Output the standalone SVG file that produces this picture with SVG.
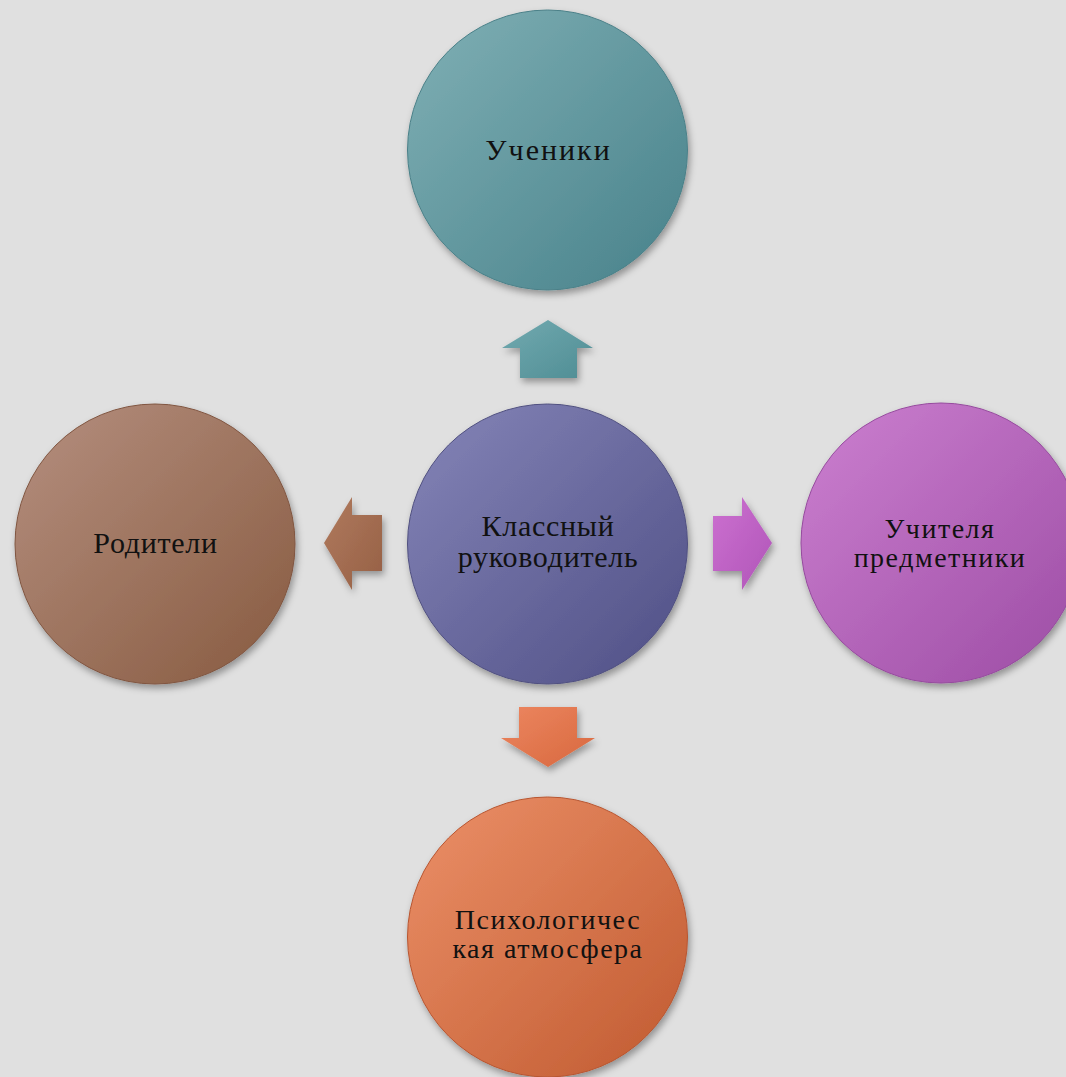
<svg xmlns="http://www.w3.org/2000/svg" width="1066" height="1077" viewBox="0 0 1066 1077">
<defs>
<style>
.lbl{font-family:"Liberation Serif","Times New Roman",serif;font-size:30px;fill:#111;text-anchor:middle;letter-spacing:0.7px}
.sm{font-size:28px;letter-spacing:1.5px}
.circ{stroke-width:1;filter:url(#sh)}
.arr{filter:url(#sh)}
</style>
<filter id="sh" x="-20%" y="-20%" width="140%" height="140%">
<feDropShadow dx="2" dy="4" stdDeviation="3.5" flood-color="#000" flood-opacity="0.35"/>
</filter>
<linearGradient id="gTeal" x1="0" y1="0" x2="1" y2="1"><stop offset="0" stop-color="#80b0b5"/><stop offset="1" stop-color="#47818a"/></linearGradient>
<linearGradient id="gPurp" x1="0" y1="0" x2="1" y2="1"><stop offset="0" stop-color="#8585b8"/><stop offset="1" stop-color="#4f4f85"/></linearGradient>
<linearGradient id="gMag" x1="0" y1="0" x2="1" y2="1"><stop offset="0" stop-color="#cc80d0"/><stop offset="1" stop-color="#9c4ca4"/></linearGradient>
<linearGradient id="gBrn" x1="0" y1="0" x2="1" y2="1"><stop offset="0" stop-color="#b58f7f"/><stop offset="1" stop-color="#875a40"/></linearGradient>
<linearGradient id="gOra" x1="0" y1="0" x2="1" y2="1"><stop offset="0" stop-color="#ec9068"/><stop offset="1" stop-color="#c05a30"/></linearGradient>
<linearGradient id="aTeal" x1="0" y1="0" x2="1" y2="1"><stop offset="0" stop-color="#72aab0"/><stop offset="1" stop-color="#4f8d94"/></linearGradient>
<linearGradient id="aBrn" x1="0" y1="0" x2="1" y2="1"><stop offset="0" stop-color="#b07a5e"/><stop offset="1" stop-color="#966045"/></linearGradient>
<linearGradient id="aMag" x1="0" y1="0" x2="1" y2="1"><stop offset="0" stop-color="#cc70d0"/><stop offset="1" stop-color="#b055b8"/></linearGradient>
<linearGradient id="aOra" x1="0" y1="0" x2="1" y2="1"><stop offset="0" stop-color="#ec8660"/><stop offset="1" stop-color="#d8683e"/></linearGradient>
</defs>
<rect width="1066" height="1077" fill="#e0e0e0"/>
<g id="connectors">
<polygon class="arr" fill="url(#aTeal)" points="548,320 593,348 577,348 577,378 520,378 520,348 502,348"/>
<polygon class="arr" fill="url(#aBrn)" points="324,543 352,497 352,515 382,515 382,571 352,571 352,590"/>
<polygon class="arr" fill="url(#aMag)" points="772,543 742,497 742,516 713,516 713,571 742,571 742,590"/>
<polygon class="arr" fill="url(#aOra)" points="548,767 595,738 577,738 577,707 519,707 519,738 501,738"/>
</g>
<g id="node-top">
<circle class="circ" cx="547.5" cy="150" r="140" fill="url(#gTeal)" stroke="#4a8088"/>
<text class="lbl" x="548.5" y="160" style="letter-spacing:2px">Ученики</text>
</g>
<g id="node-center">
<circle class="circ" cx="547.5" cy="544" r="140" fill="url(#gPurp)" stroke="#505080"/>
<text class="lbl" x="548" y="536">Классный</text>
<text class="lbl" x="548" y="567">руководитель</text>
</g>
<g id="node-left">
<circle class="circ" cx="155" cy="544" r="140" fill="url(#gBrn)" stroke="#805540"/>
<text class="lbl" x="155.5" y="553">Родители</text>
</g>
<g id="node-right">
<circle class="circ" cx="941" cy="543" r="140" fill="url(#gMag)" stroke="#964a9e"/>
<text class="lbl sm" x="940" y="538">Учителя</text>
<text class="lbl sm" x="940" y="567">предметники</text>
</g>
<g id="node-bottom">
<circle class="circ" cx="547.5" cy="937" r="140" fill="url(#gOra)" stroke="#b85530"/>
<text class="lbl sm" x="548" y="929">Психологичес</text>
<text class="lbl sm" x="548" y="958">кая атмосфера</text>
</g>
</svg>
